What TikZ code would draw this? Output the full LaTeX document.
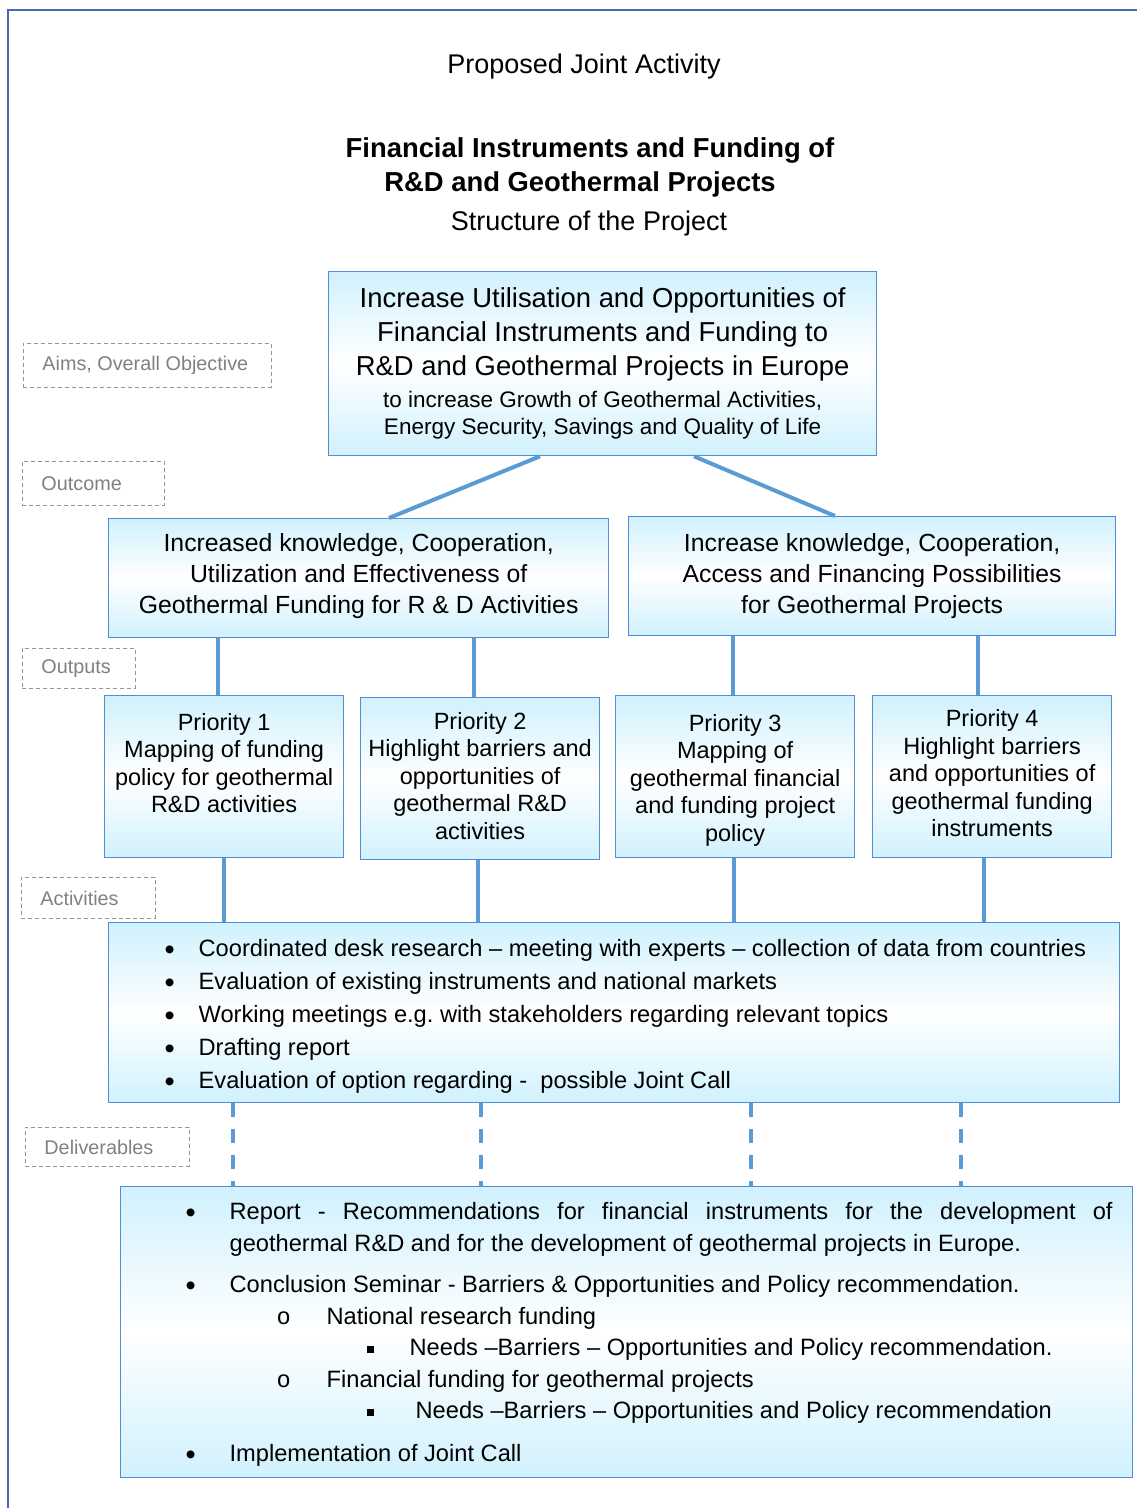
\documentclass[tikz,border=0pt]{standalone}
\usepackage{fontspec}
\setmainfont{Liberation Sans}
\newfontfamily\monofnt{Liberation Mono}
\usetikzlibrary{calc}

\definecolor{framecol}{RGB}{71,107,178}
\definecolor{boxline}{RGB}{84,141,212}
\definecolor{linkcol}{RGB}{91,155,213}
\definecolor{boxfill}{RGB}{208,241,253}
\definecolor{tagline}{RGB}{150,150,150}
\definecolor{tagtext}{RGB}{128,128,128}

\newcommand{\blt}[1]{\makebox[#1][l]{\raisebox{-3pt}{\fontsize{29}{29}\selectfont\textbullet}}}
\newcommand{\cbl}[1]{\makebox[#1][l]{\monofnt o}}
\newcommand{\sbl}[1]{\makebox[#1][l]{\rule[2.5pt]{7pt}{7pt}}}

\begin{document}
\frenchspacing
\begin{tikzpicture}[
        x=1pt, y=-1pt,
        box/.style={
            draw=boxline,
            line width=1.3pt,
            top color=boxfill,
            bottom color=boxfill,
            middle color=white,
            inner sep=0pt,
            anchor=north west,
            align=flush center
        },
        tag/.style={
            draw=tagline,
            dash pattern=on 4pt off 3pt,
            line width=0.9pt,
            inner xsep=19pt,
            inner ysep=0pt,
            anchor=north west,
            align=flush left,
            text=tagtext,
            font=\fontsize{19.8}{24}\selectfont
        },
        link/.style={linkcol, line width=4pt},
        dlink/.style={linkcol, line width=3.5pt, dash pattern=on 14pt off 12pt}
    ]
    \useasboundingbox (0,0) rectangle (1137,1508);

    % Rahmen
    \draw[framecol, line width=2.5pt] (8,1508) -- (8,10) -- (1137,10);

    % Titel
    \node[anchor=base, font=\fontsize{27}{33}\selectfont] (pja) at (584,73) {Proposed Joint Activity};
    \node[anchor=base, font=\fontsize{27.4}{34}\selectfont\bfseries] (head1) at (590,157) {Financial Instruments and Funding of};
    \node[anchor=base, font=\fontsize{27.4}{34}\selectfont\bfseries] (head2) at (580,191) {R\&D and Geothermal Projects};
    \node[anchor=base, font=\fontsize{27}{33}\selectfont] (sub) at (589,230) {Structure of the Project};

    % Ebenen
    \node[tag, minimum height=44pt, text width=210pt] (t-aim) at (23,343) {Aims, Overall Objective};
    \node[tag, minimum height=44pt, text width=104pt] (t-out) at (22,461) {Outcome};
    \node[tag, minimum height=40pt, text width=75pt]  (t-outp) at (22,648) {Outputs};
    \node[tag, minimum height=41pt, text width=96pt]  (t-act) at (21,877) {Activities};
    \node[tag, minimum height=39pt, text width=126pt] (t-dlv) at (25,1127) {Deliverables};

    % Ziel
    \node[box, text width=548pt, minimum height=184pt, font=\fontsize{27.4}{33.5}\selectfont] (aim) at (328,271)
        {Increase Utilisation and Opportunities of\\
         Financial Instruments and Funding to\\
         R\&D and Geothermal Projects in Europe\\[-1pt]
         {\fontsize{22.5}{27.5}\selectfont to increase Growth of Geothermal Activities,}\\[-6.5pt]
         {\fontsize{22.5}{27.5}\selectfont Energy Security, Savings and Quality of Life}};

    % Ergebnisse
    \node[box, text width=500pt, minimum height=119pt, font=\fontsize{24.8}{31}\selectfont] (outl) at (108,518)
        {Increased knowledge, Cooperation,\\
         Utilization and Effectiveness of\\
         Geothermal Funding for R \& D Activities\rule[-9pt]{0pt}{9pt}};
    \node[box, text width=487pt, minimum height=119pt, font=\fontsize{24.8}{31}\selectfont] (outr) at (628,516)
        {Increase knowledge, Cooperation,\\
         Access and Financing Possibilities\\
         for Geothermal Projects};

    % Prioritaeten
    \node[box, text width=239pt, minimum height=162pt, font=\fontsize{23.5}{27.5}\selectfont] (p1) at (104,695)
        {Priority 1\\ Mapping of funding\\ policy for geothermal\\ R\&D activities\\ \mbox{}};
    \node[box, text width=239pt, minimum height=162pt, font=\fontsize{23.5}{27.5}\selectfont] (p2) at (360,697)
        {Priority 2\\ Highlight barriers and\\ opportunities of\\ geothermal R\&D\\ activities\rule[-6pt]{0pt}{6pt}};
    \node[box, text width=239pt, minimum height=162pt, font=\fontsize{23.5}{27.5}\selectfont] (p3) at (615,695)
        {\rule{0pt}{24pt}Priority 3\\ Mapping of\\ geothermal financial\\ and funding project\\ policy};
    \node[box, text width=239pt, minimum height=162pt, font=\fontsize{23.5}{27.5}\selectfont] (p4) at (872,695)
        {Priority 4\\ Highlight barriers\\ and opportunities of\\ geothermal funding\\ instruments\rule[-7pt]{0pt}{7pt}};

    % Aktivitaeten
    \node[box, text width=1011pt, minimum height=180pt, align=flush left, font=\fontsize{23.65}{33}\selectfont] (act) at (108,922)
        {\rule{0pt}{25pt}\hspace*{56pt}\blt{34pt}Coordinated desk research – meeting with experts – collection of data from countries\\
         \hspace*{56pt}\blt{34pt}Evaluation of existing instruments and national markets\\
         \hspace*{56pt}\blt{34pt}Working meetings e.g. with stakeholders regarding relevant topics\\
         \hspace*{56pt}\blt{34pt}Drafting report\\
         \hspace*{56pt}\blt{34pt}Evaluation of option regarding -\ \ possible Joint Call};

    % Ergebnisse (Deliverables)
    \node[box, text width=1012pt, minimum height=291pt, align=flush left, font=\fontsize{23.65}{31.5}\selectfont] (dlv) at (120,1186)
        {\rule{0pt}{22pt}\hspace*{65pt}\blt{44pt}\hbox to 883pt{Report\hfill-\hfill Recommendations\hfill for\hfill financial\hfill instruments\hfill for\hfill the\hfill development\hfill of}\\
         \hspace*{109pt}geothermal R\&D and for the development of geothermal projects in Europe.\\[10pt]
         \hspace*{65pt}\blt{44pt}Conclusion Seminar - Barriers \& Opportunities and Policy recommendation.\\
         \hspace*{156pt}\cbl{50pt}National research funding\\
         \hspace*{246pt}\sbl{43pt}Needs –Barriers – Opportunities and Policy recommendation.\\
         \hspace*{156pt}\cbl{50pt}Financial funding for geothermal projects\\
         \hspace*{246pt}\sbl{49pt}Needs –Barriers – Opportunities and Policy recommendation\\[11pt]
         \hspace*{65pt}\blt{44pt}Implementation of Joint Call};

    % Verbindungen
    \draw[link] ($(aim.south west)+(212,0)$) -- ($(outl.north west)+(281,0)$);
    \draw[link] ($(aim.south west)+(366,0)$) -- ($(outr.north west)+(207,0)$);

    \draw[link] ([xshift=-6.5pt]p1.north) -- ([xshift=-6.5pt]p1.north |- outl.south);
    \draw[link] ([xshift=-6.5pt]p2.north) -- ([xshift=-6.5pt]p2.north |- outl.south);
    \draw[link] ([xshift=-2.5pt]p3.north) -- ([xshift=-2.5pt]p3.north |- outr.south);
    \draw[link] ([xshift=-14.5pt]p4.north) -- ([xshift=-14.5pt]p4.north |- outr.south);

    \draw[link] (p1.south) -- (p1.south |- act.north);
    \draw[link] ([xshift=-2.5pt]p2.south) -- ([xshift=-2.5pt]p2.south |- act.north);
    \draw[link] ([xshift=-1.5pt]p3.south) -- ([xshift=-1.5pt]p3.south |- act.north);
    \draw[link] ([xshift=-8.5pt]p4.south) -- ([xshift=-8.5pt]p4.south |- act.north);

    \foreach \dx [count=\i] in {125,373,643,853} {
        \coordinate (dd\i) at ($(act.south west)+(\dx,0)$);
        \draw[dlink] (dd\i) -- (dd\i |- dlv.north);
    }

\end{tikzpicture}
\end{document}
